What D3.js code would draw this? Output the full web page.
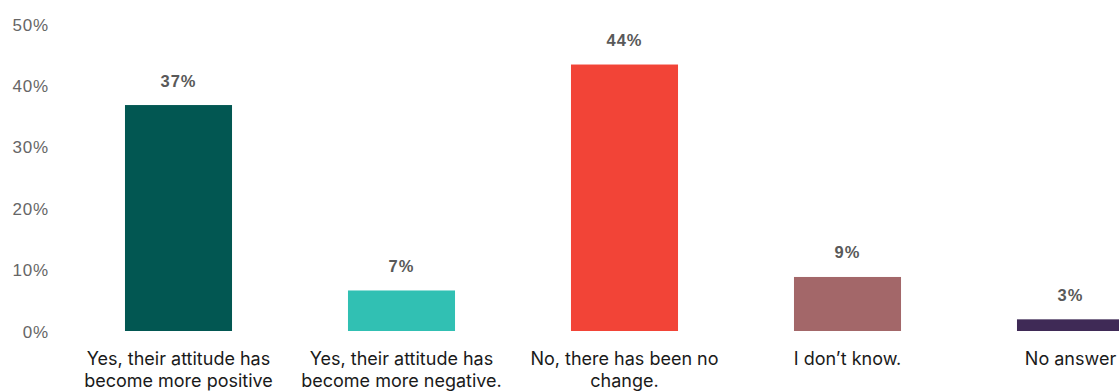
<!DOCTYPE html>
<html>
<head>
<meta charset="utf-8">
<script src="https://cdn.jsdelivr.net/npm/d3@7"></script>
<style>
  body { margin: 0; background: #fff; overflow: hidden; }
</style>
</head>
<body>
<svg width="1119" height="392"></svg>
<script>
// Data
const categories = [
    ['Yes, their attitude has', 'become more positive'],
    ['Yes, their attitude has', 'become more negative.'],
    ['No, there has been no', 'change.'],
    ['I don\u2019t know.'],
    ['No answer']
];
const values = [36.8, 6.6, 43.4, 8.8, 1.9];
const value_labels = ['37%', '7%', '44%', '9%', '3%'];
const bar_colors = ['#025752', '#31c0b3', '#f24437', '#a36769', '#3f2a56'];
const y_ticks = [0, 10, 20, 30, 40, 50];

// Constants
const svg = d3.select('svg');
const width = +svg.attr('width');
const height = +svg.attr('height');
const margin = { top: 24, bottom: 61, left: 56 };

const x_scale = d3.scaleBand()
    .domain(d3.range(values.length))
    .range([67, 1182])
    .paddingInner(0.52)
    .paddingOuter(0.26);

const y_scale = d3.scaleLinear()
    .domain([0, 50])
    .range([height - margin.bottom, margin.top]);

// Y axis
const y_axis = svg.append('g')
    .attr('transform', `translate(${margin.left}, 0)`)
    .call(d3.axisLeft(y_scale).tickValues(y_ticks).tickSize(0).tickPadding(7).tickFormat(d => d + '%'));
y_axis.select('.domain').remove();
y_axis.selectAll('text')
    .attr('fill', '#666666')
    .attr('dy', '0.36em')
    .style('font-family', '"Liberation Sans", Arial, sans-serif')
    .style('font-size', '17px')
    .style('letter-spacing', '0.8px');

// Bars
svg.selectAll('.bar')
    .data(values)
    .enter()
    .append('rect')
    .attr('class', 'bar')
    .attr('x', (d, i) => x_scale(i))
    .attr('y', d => y_scale(d))
    .attr('width', x_scale.bandwidth())
    .attr('height', d => y_scale(0) - y_scale(d))
    .attr('fill', (d, i) => bar_colors[i]);

// Value labels
svg.selectAll('.value-label')
    .data(values)
    .enter()
    .append('text')
    .attr('class', 'value-label')
    .attr('x', (d, i) => x_scale(i) + x_scale.bandwidth() / 2)
    .attr('y', d => y_scale(d) - 18.5)
    .attr('text-anchor', 'middle')
    .attr('fill', '#595959')
    .style('font-family', '"Liberation Sans", Arial, sans-serif')
    .style('font-weight', 'bold')
    .style('font-size', '16.5px')
    .style('letter-spacing', '1px')
    .text((d, i) => value_labels[i]);

// Category labels
const cat = svg.selectAll('.cat-label')
    .data(categories)
    .enter()
    .append('text')
    .attr('class', 'cat-label')
    .attr('x', (d, i) => x_scale(i) + x_scale.bandwidth() / 2)
    .attr('y', 365)
    .attr('text-anchor', 'middle')
    .attr('fill', '#1a1a1a')
    .style('font-family', 'Inter, sans-serif')
    .style('font-size', '18px');
cat.selectAll('tspan')
    .data(d => d)
    .enter()
    .append('tspan')
    .attr('x', function() { return d3.select(this.parentNode).attr('x'); })
    .attr('dy', (d, i) => i === 0 ? 0 : 21.5)
    .text(d => d);
</script>
</body>
</html>
